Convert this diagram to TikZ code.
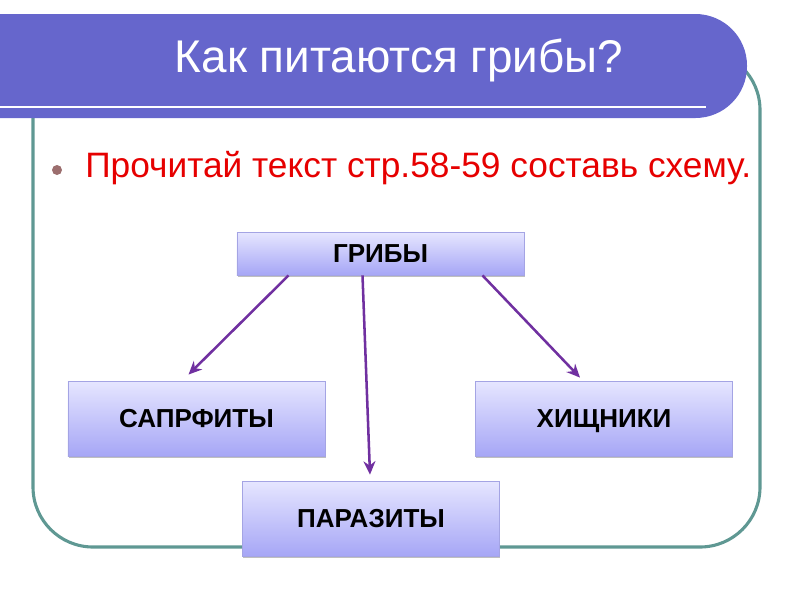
\documentclass[tikz,border=0pt]{standalone}
\usepackage{fontspec}
\setmainfont{Liberation Sans}
\usetikzlibrary{arrows.meta,positioning,calc,shadows}
\definecolor{slidebar}{HTML}{6666CC}
\definecolor{slideframe}{HTML}{5F9893}
\definecolor{boxtop}{HTML}{E6E6FF}
\definecolor{boxbot}{HTML}{A6A6F6}
\definecolor{boxline}{HTML}{A4A4E4}
\definecolor{arrviolet}{HTML}{7030A0}
\definecolor{dotbrown}{HTML}{9C6E6E}
\definecolor{taskred}{HTML}{E60000}
\tikzset{
  bx/.style={draw=boxline, line width=0.6pt, top color=boxtop, bottom color=boxbot, align=center,
    font=\fontsize{18.5}{20}\selectfont\bfseries, inner sep=0pt, text height=13pt, text depth=0pt,
    drop shadow={shadow xshift=0.5pt, shadow yshift=-1.5pt, opacity=0.25, fill=black}},
  headbx/.style={bx, minimum width=7.175cm, minimum height=1.075cm},
  kindbx/.style={bx, minimum width=6.425cm, minimum height=1.875cm},
  arr/.style={-{Stealth[length=9.5pt, width=8.5pt]}, line width=1.8pt, color=arrviolet},
  ttl/.style={font=\fontsize{32.6}{36}\selectfont, text=white, inner sep=0pt},
  task/.style={font=\fontsize{25.1}{28}\selectfont, text=taskred, inner sep=0pt},
}
\begin{document}
\begin{tikzpicture}[x=0.025cm, y=-0.025cm]
  \useasboundingbox (0,0) rectangle (800,600);
  % frame and title bar (1 unit = 1 px)
  \draw[slideframe, line width=2.2pt, rounded corners=1.5cm] (33,50) rectangle (760,547);
  \fill[slidebar, rounded corners=1.29cm] (-60,14) rectangle (747,118);
  \draw[white, line width=2pt] (0,107) -- (706,107);
  \node[ttl, anchor=base] (titel) at (399,72) {Как питаются грибы?};
  \fill[dotbrown] (57,170) circle (5);
  \node[task, anchor=base west] (auftrag) at (85,177) {Прочитай текст стр.58-59 составь схему.};
  % scheme
  \node[headbx] (griby) at (380.5,253.5) {ГРИБЫ};
  \node[kindbx] (saprofity) at (196.5,418.5) {САПРФИТЫ};
  \node[kindbx] (khishchniki) at (604,418.5) {ХИЩНИКИ};
  \node[kindbx] (parazity) at (371,518.5) {ПАРАЗИТЫ};
  \draw[arr] ($(griby.south)+(-92,0)$) -- ($(saprofity.north)+(-8,-6)$);
  \draw[arr] ($(griby.south)+(-18,0)$) -- ($(parazity.north)+(-1,-6)$);
  \draw[arr] ($(griby.south)+(102,0)$) -- ($(khishchniki.north)+(-24,-3)$);
\end{tikzpicture}
\end{document}
